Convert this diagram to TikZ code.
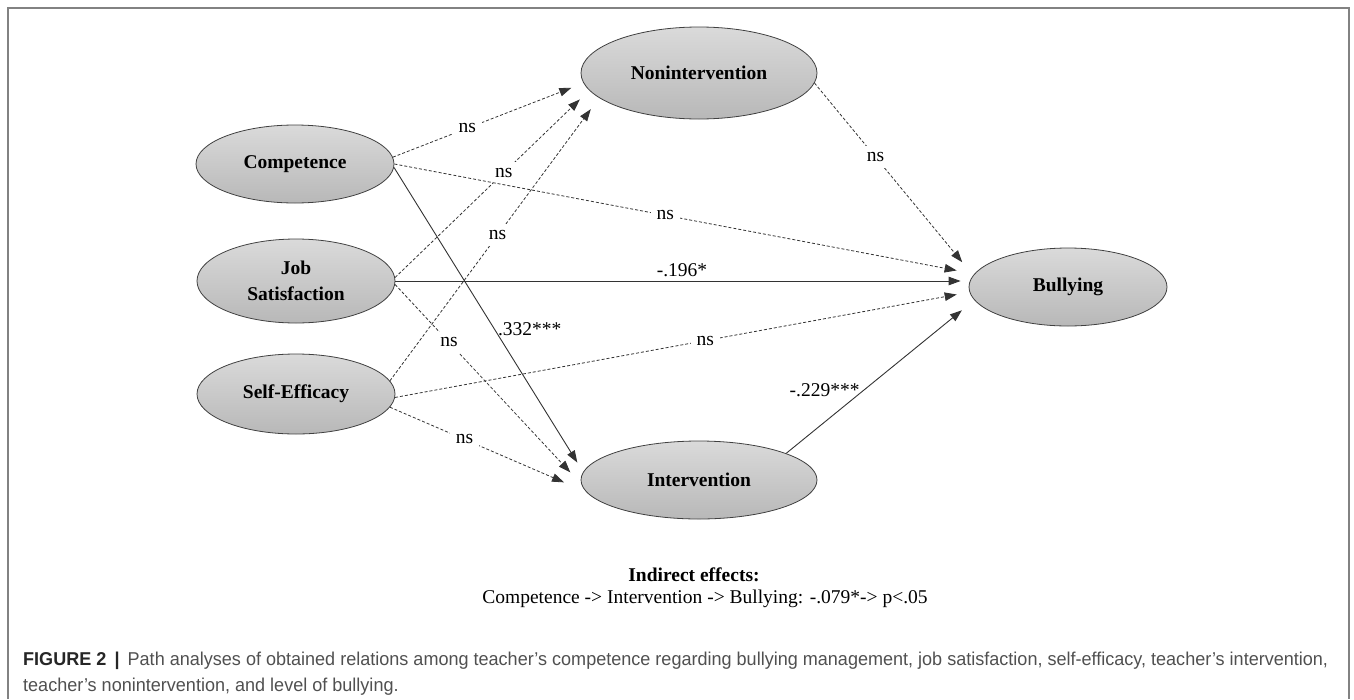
\documentclass[tikz,border=0pt]{standalone}
\usepackage{fontspec}
\setmainfont{Liberation Serif}
\newfontfamily\capfont[FakeStretch=0.97]{Liberation Sans}
\usetikzlibrary{arrows.meta,shapes.geometric}
\definecolor{ovaltop}{RGB}{218,218,218}
\definecolor{ovalbot}{RGB}{184,184,184}
\definecolor{framegray}{RGB}{130,130,130}
\definecolor{capgray}{RGB}{80,80,80}
\tikzset{
	factor/.style={
			ellipse,draw=black!75,line width=0.8pt,
			top color=ovaltop,bottom color=ovalbot,inner sep=0pt,
			font=\fontsize{19.5}{26}\selectfont\bfseries,align=center
		},
	sigpath/.style={draw=black!80,line width=0.9pt,-{Triangle[length=12pt,width=8.5pt]}},
	nspath/.style={sigpath,line width=0.8pt,dash pattern=on 3pt off 2pt},
	lbl/.style={font=\fontsize{19.5}{22}\selectfont},
	nslbl/.style={lbl,fill=white,inner sep=6pt}
}
\begin{document}
\begin{tikzpicture}[x=1pt,y=-1pt]
			\useasboundingbox (0,0) rectangle (1354,699);
			\draw[framegray,line width=1.5pt] (8,699)--(8,8)--(1349,8)--(1349,699);
			\node[factor,minimum width=236pt,minimum height=92pt] (nonint) at (699,73) {Nonintervention};
			\node[factor,minimum width=198pt,minimum height=78pt] (comp) at (295,164) {Competence};
			\node[factor,minimum width=198pt,minimum height=84pt] (jobsat) at (296,281) {Job\\Satisfaction};
			\node[factor,minimum width=198pt,minimum height=80pt] (selfeff) at (296,394) {Self-Efficacy};
			\node[factor,minimum width=236pt,minimum height=78pt] (interv) at (699,480) {Intervention};
			\node[factor,minimum width=198pt,minimum height=78pt] (bully) at (1068,287) {Bullying};
			\draw[nspath,shorten >=13pt] (comp.4) -- (nonint.185) node[nslbl,pos=0.39] {ns};
			\draw[nspath,shorten >=13pt] (jobsat.2) -- (nonint.189) node[nslbl,pos=0.56] {ns};
			\draw[nspath,shorten >=14pt] (selfeff.8) -- (nonint.194) node[nslbl,pos=0.515] {ns};
			\draw[nspath,shorten >=18pt] (comp.east) -- (bully.172) node[nslbl,pos=0.467] {ns};
			\draw[sigpath,shorten >=8pt] (jobsat.east) -- (jobsat.east -| bully.west) node[lbl,pos=0.5,above] {-.196*};
			\draw[nspath,shorten >=13pt] (selfeff.-2) -- (bully.183) node[nslbl,pos=0.54] {ns};
			\draw[sigpath,shorten >=11pt] (comp.-2) -- (interv.176) node[lbl,pos=0.53,right] {.332***};
			\draw[nspath,shorten >=16pt] (jobsat.-2) -- (interv.182) node[nslbl,pos=0.29] {ns};
			\draw[nspath,shorten >=24pt] (selfeff.-8) -- (interv.186) node[nslbl,pos=0.38] {ns};
			\draw[nspath,shorten >=17pt] (nonint.-5) -- (bully.173) node[nslbl,pos=0.385] {ns};
			\draw[sigpath,shorten >=16pt] (interv.17) -- (bully.188) node[lbl,pos=0.41,left] {-.229***};
			\node[lbl,font=\fontsize{19.5}{22}\selectfont\bfseries] (indtitle) at (694,575) {Indirect effects:};
			\node[lbl] (indline) at (705,599) {Competence -> Intervention -> Bullying: -.079*-> p<.05};
			\node[anchor=base west,align=left,text=capgray,inner sep=0pt,
				font=\capfont\fontsize{18.6}{26}\selectfont] (caption) at (23,691)
				{{\color{black!85}\bfseries FIGURE 2 \,|\,} Path analyses of obtained relations among teacher’s competence regarding bullying management, job satisfaction, self-efficacy, teacher’s intervention,\\
				teacher’s nonintervention, and level of bullying.};
		\end{tikzpicture}
\end{document}
